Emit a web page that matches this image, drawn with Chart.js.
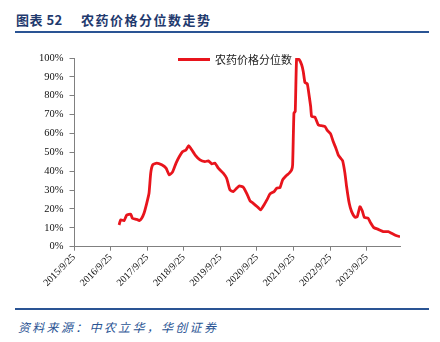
<!DOCTYPE html>
<html>
<head>
<meta charset="utf-8">
<script src="https://cdn.jsdelivr.net/npm/chart.js@4.4.1/dist/chart.umd.min.js"></script>
<style>
  body { margin: 0; background: #fff; width: 440px; height: 342px; position: relative; overflow: hidden; }
  .titulo { position: absolute; top: 10px; font: bold 13px "Noto Sans CJK SC"; color: #1F3A6E; white-space: pre; }
  .linha { position: absolute; left: 15px; width: 414px; height: 2px; background: #2A5494; }
  #fonte { position: absolute; left: 18px; top: 318px; font: italic 12px "Noto Sans CJK SC"; color: #2A5494; letter-spacing: 2.3px; }
  #box { position: absolute; left: 0; top: 0; width: 440px; height: 342px; }
</style>
</head>
<body>
<div class="titulo" style="left:16px; letter-spacing:0.5px">图表 52</div>
<div class="titulo" style="left:81px; letter-spacing:1.5px">农药价格分位数走势</div>
<div class="linha" style="top:31px"></div>
<div class="linha" style="top:308px"></div>
<div id="fonte">资料来源：中农立华，华创证券</div>
<div id="box"><canvas id="myChart" width="440" height="342"></canvas></div>
<script>
// datas (aprox. semanais) e valores do índice, em %
const datas = [
  '2016-12-18', '2017-01-04', '2017-02-06', '2017-03-05', '2017-04-14', '2017-04-30',
  '2017-06-12', '2017-07-08', '2017-08-01', '2017-08-24', '2017-09-20', '2017-10-13',
  '2017-10-30', '2017-11-19', '2017-12-29', '2018-02-17', '2018-04-01', '2018-05-04',
  '2018-06-07', '2018-07-10', '2018-08-12', '2018-09-14', '2018-10-17', '2018-11-13',
  '2018-12-03', '2019-01-15', '2019-03-06', '2019-04-25', '2019-05-28', '2019-07-01',
  '2019-08-03', '2019-09-05', '2019-10-24', '2019-11-27', '2019-12-30', '2020-02-01',
  '2020-03-06', '2020-04-01', '2020-05-11', '2020-06-14', '2020-07-17', '2020-08-19',
  '2020-09-28', '2020-11-01', '2020-12-04', '2021-01-06', '2021-02-02', '2021-03-14',
  '2021-04-10', '2021-05-13', '2021-06-08', '2021-07-11', '2021-08-13', '2021-09-06',
  '2021-09-16', '2021-09-29', '2021-10-12', '2021-10-26', '2021-11-21', '2021-12-15',
  '2021-12-31', '2022-01-17', '2022-02-09', '2022-03-01', '2022-03-15', '2022-03-25',
  '2022-04-27', '2022-05-30', '2022-07-03', '2022-08-05', '2022-08-28', '2022-09-30',
  '2022-10-26', '2022-11-22', '2022-12-15', '2023-01-08', '2023-01-28', '2023-02-20',
  '2023-03-09', '2023-04-04', '2023-04-28', '2023-05-31', '2023-06-23', '2023-07-20',
  '2023-08-12', '2023-09-01', '2023-10-10', '2023-11-03', '2023-12-06', '2024-01-18',
  '2024-03-09', '2024-04-28', '2024-06-01', '2024-07-21', '2024-08-23'
];
const valores = [
  11.5, 14.2, 13.8, 16.8, 17.2, 15.1,
  14.5, 13.8, 15.1, 17.7, 23.0, 28.3,
  39.0, 43.4, 44.3, 43.4, 41.6, 38.0,
  39.8, 44.3, 47.8, 50.4, 51.3, 53.5,
  52.2, 48.7, 46.0, 45.1, 45.5, 43.9,
  44.3, 41.6, 39.0, 36.3, 30.1, 29.2,
  31.0, 32.2, 31.5, 28.3, 24.4, 23.0,
  21.2, 19.5, 22.1, 25.2, 28.0, 29.2,
  31.0, 31.3, 35.4, 37.5, 39.0, 40.7,
  43.4, 70.8, 71.7, 100.0, 99.1, 96.4,
  92.9, 87.0, 86.4, 79.6, 74.3, 69.0,
  68.7, 64.6, 64.1, 63.7, 61.6, 59.8,
  55.7, 52.2, 48.7, 46.9, 45.6, 39.0,
  31.8, 23.0, 18.6, 15.6, 15.9, 21.2,
  19.1, 15.6, 15.1, 12.7, 10.1, 9.2,
  8.0, 8.0, 7.1, 5.8, 5.3
];
// rótulos do eixo x
const rotulosX = ['2015/9/25', '2016/9/25', '2017/9/25', '2018/9/25', '2019/9/25',
  '2020/9/25', '2021/9/25', '2022/9/25', '2023/9/25'];
const nomeSerie = '农药价格分位数';

const base = Date.parse('2015-09-25');
function dia(str) {
  const [a, m, d] = str.split(/[-\/]/).map(Number);
  return (Date.UTC(a, m - 1, d) - base) / 86400000;
}
const diasTicks = rotulosX.map(dia);
const pontos = datas.map((d, i) => ({ x: dia(d), y: valores[i] }));

// legenda desenhada dentro da área do gráfico
const legendaPlugin = {
  id: 'legendaInterna',
  afterDraw(chart) {
    const c = chart.ctx;
    const ds = chart.data.datasets[0];
    c.save();
    c.strokeStyle = ds.borderColor;
    c.lineWidth = 3;
    c.beginPath();
    c.moveTo(178, 59.5);
    c.lineTo(210, 59.5);
    c.stroke();
    c.fillStyle = '#222';
    c.font = '11px "Noto Sans CJK SC"';
    c.textBaseline = 'middle';
    c.fillText(ds.label, 215, 60);
    c.restore();
  }
};

const ctx = document.getElementById('myChart').getContext('2d');
const grafico = new Chart(ctx, {
  type: 'line',
  data: {
    datasets: [{
      label: nomeSerie,
      data: pontos,
      borderColor: '#E8141C',
      borderWidth: 2.8,
      pointRadius: 0,
      tension: 0.15,
      fill: false
    }]
  },
  options: {
    responsive: false,
    animation: false,
    layout: { padding: { top: 58, right: 40, left: 0, bottom: 0 } },
    plugins: { legend: { display: false }, tooltip: { enabled: false } },
    scales: {
      x: {
        type: 'linear',
        min: 0,
        max: dia(datas[datas.length - 1]),
        afterBuildTicks(scale) {
          scale.ticks = diasTicks.map(v => ({ value: v }));
        },
        afterFit(scale) { scale.height = 95.3; },
        border: { color: '#808080', width: 1 },
        grid: { drawOnChartArea: false, drawTicks: true, tickLength: 4, color: '#808080' },
        ticks: {
          autoSkip: false,
          maxRotation: 45,
          minRotation: 45,
          padding: 1,
          color: '#111',
          font: { family: '"Liberation Serif"', size: 10 },
          callback: (v, i) => rotulosX[i]
        }
      },
      y: {
        min: 0,
        max: 100,
        afterFit(scale) { scale.width = 74; },
        border: { color: '#808080', width: 1 },
        grid: { drawOnChartArea: false, drawTicks: true, tickLength: 4.5, color: '#808080' },
        ticks: {
          stepSize: 10,
          padding: 6,
          color: '#111',
          font: { family: '"Liberation Serif"', size: 10.5 },
          callback: v => v + '%'
        }
      }
    }
  },
  plugins: [legendaPlugin]
});
</script>
</body>
</html>
